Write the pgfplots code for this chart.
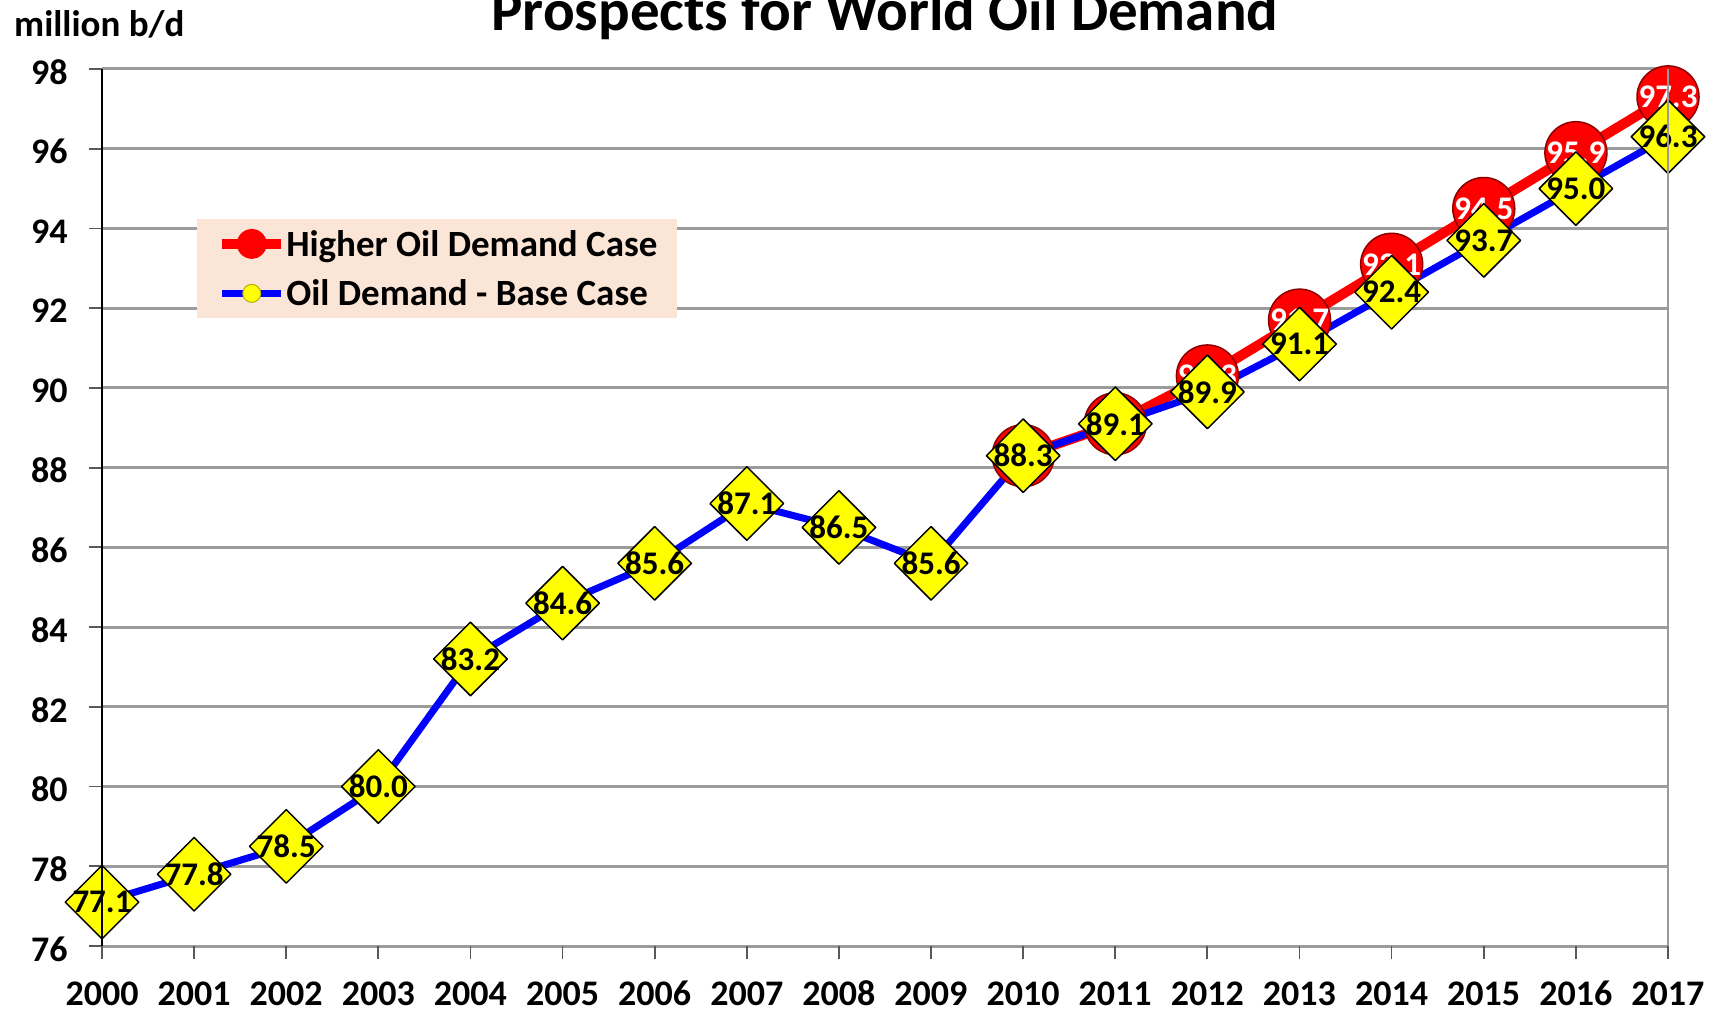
\documentclass[border=0pt]{standalone}
\usepackage{fontspec}
\setmainfont{Carlito}
\usepackage{pgfplots}
\pgfplotsset{compat=1.18}
\usepackage{pgfplotstable}
\definecolor{gridgray}{RGB}{155,155,155}
\definecolor{legfill}{RGB}{251,229,214}
\definecolor{myred}{RGB}{255,0,0}
\definecolor{myblue}{RGB}{0,0,255}
\definecolor{myyellow}{RGB}{255,255,0}

\pgfplotstableread{
year val lab
2000 77.1 77.1
2001 77.8 77.8
2002 78.5 78.5
2003 80.0 80.0
2004 83.2 83.2
2005 84.6 84.6
2006 85.6 85.6
2007 87.1 87.1
2008 86.5 86.5
2009 85.6 85.6
2010 88.3 88.3
2011 89.1 89.1
2012 89.9 89.9
2013 91.1 91.1
2014 92.4 92.4
2015 93.7 93.7
2016 95.0 95.0
2017 96.3 96.3
}\base

\pgfplotstableread{
year val lab
2010 88.3 88.3
2011 89.1 89.1
2012 90.3 90.3
2013 91.7 91.7
2014 93.1 93.1
2015 94.5 94.5
2016 95.9 95.9
2017 97.3 97.3
}\high

\begin{document}
\begin{tikzpicture}
\begin{axis}[
  scale only axis, width=1566pt, height=877pt,
  xmin=2000, xmax=2017, ymin=76, ymax=98,
  xtick={2000,...,2017}, ytick={76,78,...,98},
  /pgf/number format/1000 sep={},
  /pgf/number format/assume math mode=true,
  tick pos=left, tick align=outside,
  major tick length=13pt,
  tick style={line width=1.8pt, draw=black!65},
  ymajorgrids, grid style={line width=3pt, gridgray},
  axis line style={draw=none},
  ticklabel style={font=\fontsize{36}{38}\selectfont\bfseries},
  xticklabel style={inner ysep=1pt, yshift=-21pt, text height=24pt, text depth=0pt},
  yticklabel style={xshift=-18pt, yshift=-3pt},
  clip=false,
  title={Prospects for World Oil Demand},
  title style={at={(0.5,1)}, anchor=base, yshift=32pt, font=\fontsize{59}{60}\selectfont\bfseries},
  legend cell align=left,
  legend style={at={(0.0607,0.829)}, anchor=north west, fill=legfill, draw=none,
    font=\fontsize{37}{40}\selectfont\bfseries, inner xsep=20pt, inner ysep=8pt,
    row sep=16pt, nodes={inner xsep=0pt, inner ysep=3pt}},
]
\addplot[myred, line width=10pt, line join=round, mark=*, mark size=31pt,
  mark options={fill=myred, draw=myred!55!black, line width=1.5pt},
  nodes near coords, point meta=explicit symbolic,
  every node near coord/.append style={anchor=center, text=white, font=\fontsize{33}{34}\selectfont\bfseries},
  legend image code/.code={\draw[myred, line width=10pt] (0pt,0pt) -- (59pt,0pt); \fill[myred] (29.5pt,0pt) circle (10pt);}
] table[x=year, y=val, meta=lab] {\high};
\addlegendentry{Higher Oil Demand Case}
\addplot[myblue, line width=7pt, line join=round, mark=square*, mark size=26pt,
  mark options={rotate=45, fill=myyellow, draw=black, line width=1.5pt},
  nodes near coords, point meta=explicit symbolic,
  every node near coord/.append style={anchor=center, text=black, font=\fontsize{33}{34}\selectfont\bfseries},
  legend image code/.code={\draw[myblue, line width=7pt] (0pt,0pt) -- (59pt,0pt); \filldraw[fill=myyellow, draw=myyellow!70!black, line width=1pt] (29.5pt,0pt) circle (9pt);}
] table[x=year, y=val, meta=lab] {\base};
\addlegendentry{Oil Demand - Base Case}
\end{axis}
\draw[black, line width=2pt] (current axis.south west) -- (current axis.north west);
\draw[gridgray, line width=2pt] (current axis.south east) -- (current axis.north east);
\node[anchor=base west, inner sep=0pt, font=\fontsize{37}{38}\selectfont\bfseries]
  at ([xshift=-88pt, yshift=32pt]current axis.north west) {million b/d};
\pgfresetboundingbox
\path[use as bounding box] ([shift={(-102pt,-68pt)}]current axis.south west) rectangle ([shift={(49pt,69pt)}]current axis.north east);
\end{tikzpicture}
\end{document}
